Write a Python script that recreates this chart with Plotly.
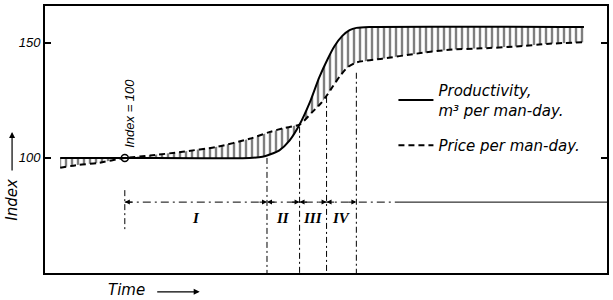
import plotly.graph_objects as go

# ---- data (time in arbitrary units 0..100) ----
prod_t = [2.7, 14.2, 36.4, 38.7, 40.0, 41.7, 43.5, 45.3, 47.1, 48.8, 50.3, 51.5, 52.9, 54.2, 55.4, 57.7, 95.9]
prod_v = [100, 100, 100, 100.5, 101.5, 103.3, 107.5, 114.5, 124, 135, 143, 148.5, 153, 155.5, 156.5, 156.9, 156.9]

price_t = [2.7, 6.0, 9.4, 14.2, 18.7, 24.5, 30.6, 36.4, 40.0, 42.6, 45.3, 47.6, 49.2, 50.1, 51.2, 52.4, 53.8,
           55.4, 60.0, 66.1, 71.9, 77.8, 83.8, 89.7, 95.9]
price_v = [95.7, 97.0, 97.8, 100, 101, 102.7, 104.8, 108.3, 111.3, 113, 114.5, 120, 124, 127, 131, 135.3, 139.3,
           141.5, 143.1, 145.3, 147, 147.6, 148.4, 149.6, 150.3]

base_t = 14.2
base_v = 100

phase_bounds = [14.2, 39.5, 45.3, 50.1, 55.4]
phase_tops = [86, 100, 113.5, 126.5, 137]
phase_bottoms = [68, 50, 50, 50, 50]
phase_labels = ["I", "II", "III", "IV"]
phase_level = 80.8
phase_label_level = 74.1

y_ticks = [100, 150]
y_range = [50, 166]
x_range = [0, 100]

fig = go.Figure()

# hatched area between the two curves
fig.add_trace(go.Scatter(
    x=prod_t + price_t[::-1], y=prod_v + price_v[::-1],
    mode="lines", line=dict(width=0), fill="toself",
    fillcolor="rgba(0,0,0,0)",
    fillpattern=dict(shape="|", size=6, solidity=0.4, fgcolor="black", bgcolor="rgba(0,0,0,0)"),
    showlegend=False, hoverinfo="skip"))

fig.add_trace(go.Scatter(
    x=prod_t, y=prod_v, mode="lines", name="Productivity,<br>m³ per man-day.",
    line=dict(color="black", width=2, shape="spline", smoothing=0.6), legendgroup="a"))
fig.add_trace(go.Scatter(
    x=price_t, y=price_v, mode="lines", name="Price per man-day.",
    line=dict(color="black", width=2, dash="6px,4px", shape="spline", smoothing=0.6), legendgroup="b"))

fig.add_trace(go.Scatter(
    x=[base_t], y=[base_v], mode="markers",
    marker=dict(symbol="circle-open", size=7, color="black", line=dict(width=1.5)),
    showlegend=False))

# phase boundary verticals
for bx, top, bot in zip(phase_bounds, phase_tops, phase_bottoms):
    fig.add_trace(go.Scatter(x=[bx, bx], y=[top, bot], mode="lines",
                             line=dict(color="black", width=1, dash="6px,3px,2px,3px"),
                             showlegend=False, hoverinfo="skip"))

# phase horizontal line
fig.add_trace(go.Scatter(x=[phase_bounds[0], 63], y=[phase_level, phase_level], mode="lines",
                         line=dict(color="black", width=1, dash="8px,4px,2px,4px"),
                         showlegend=False, hoverinfo="skip"))
fig.add_trace(go.Scatter(x=[63, x_range[1]], y=[phase_level, phase_level], mode="lines",
                         line=dict(color="black", width=1),
                         showlegend=False, hoverinfo="skip"))

annotations = []
for a, b, lab in zip(phase_bounds[:-1], phase_bounds[1:], phase_labels):
    annotations.append(dict(x=(a + b) / 2, y=phase_label_level, text=lab, showarrow=False,
                            font=dict(family="Liberation Serif", size=15, style="italic", weight="bold", color="black")))
    for tip, tail in ((a, a + 1.6), (b, b - 1.6)):
        annotations.append(dict(x=tip, y=phase_level, ax=tail, ay=phase_level, axref="x", ayref="y",
                                xref="x", yref="y", text="", showarrow=True,
                                arrowhead=2, arrowsize=1, arrowwidth=1, arrowcolor="black"))

annotations.append(dict(x=base_t + 0.7, y=119.5, text="Index = 100", textangle=-90, showarrow=False,
                        xanchor="center", yanchor="middle",
                        font=dict(family="Liberation Sans", size=13, style="italic", color="black")))

# axis titles with arrows
annotations.append(dict(xref="paper", yref="paper", x=-0.0586, y=0.275, text="Index", textangle=-90,
                        xanchor="center", yanchor="middle", showarrow=False,
                        font=dict(family="DejaVu Sans", size=15, style="italic", color="black")))
annotations.append(dict(xref="paper", yref="paper", x=-0.0586, y=0.528, ax=0, ay=40, text="",
                        showarrow=True, arrowhead=2, arrowsize=1, arrowwidth=1.2, arrowcolor="black"))
annotations.append(dict(xref="paper", yref="paper", x=0.1456, y=-0.063, text="Time",
                        xanchor="center", yanchor="middle", showarrow=False,
                        font=dict(family="DejaVu Sans", size=15, style="italic", color="black")))
annotations.append(dict(xref="paper", yref="paper", x=0.2753, y=-0.0706, ax=-44, ay=0, text="",
                        showarrow=True, arrowhead=2, arrowsize=1, arrowwidth=1.2, arrowcolor="black"))

fig.update_layout(
    width=613, height=300,
    margin=dict(l=45, r=5, t=4, b=27),
    paper_bgcolor="white", plot_bgcolor="white",
    annotations=annotations,
    legend=dict(x=0.62, y=0.745, xanchor="left", yanchor="top", bgcolor="rgba(0,0,0,0)",
                font=dict(family="DejaVu Sans", size=15, style="italic", color="black"),
                tracegroupgap=13, valign="middle", itemwidth=35),
    xaxis=dict(range=x_range, showgrid=False, zeroline=False, showticklabels=False, ticks="",
               showline=True, linecolor="black", linewidth=2, mirror=True),
    yaxis=dict(range=y_range, tickvals=y_ticks, ticks="inside", ticklen=6, tickwidth=1.5, tickcolor="black",
               showgrid=False, zeroline=False, showline=True, linecolor="black", linewidth=2, mirror="ticks",
               tickfont=dict(family="Liberation Sans", size=13, style="italic", color="black")),
)

fig.write_html("out.html")
